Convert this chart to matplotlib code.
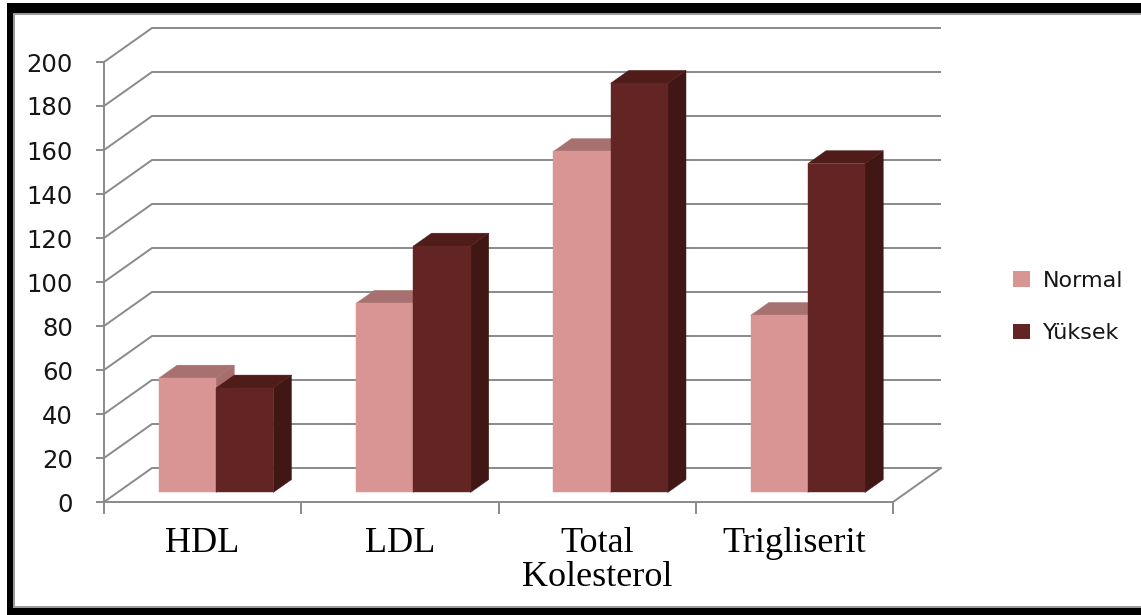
import matplotlib
matplotlib.use("Agg")
import matplotlib.pyplot as plt
from matplotlib.patches import Polygon, Patch, Rectangle

# ---- data -------------------------------------------------------------
categories = ["HDL", "LDL", "Total\nKolesterol", "Trigliserit"]
series_names = ["Normal", "Yüksek"]
normal_values = [52, 86, 155, 80.5]
yuksek_values = [47.5, 112, 186, 149.5]
y_ticks = list(range(0, 201, 20))

# ---- style ------------------------------------------------------------
W_PX, H_PX = 1141, 615
DPI = 100
face_colors = {
    "Normal": ("#D99594", "#A6716F", "#A86E6D"),   # front, top, side
    "Yüksek": ("#632523", "#4F1C1A", "#411716"),
}
grid_color = "#8a8a8a"
grid_lw = 1.4

fig = plt.figure(figsize=(W_PX / DPI, H_PX / DPI), dpi=DPI)
fig.patch.set_facecolor("white")

# front plane of the plot area (pixels)
x_left, x_right = 104, 893
y_bottom, y_top = 502, 62
ax = fig.add_axes([x_left / W_PX, 1 - y_bottom / H_PX,
                   (x_right - x_left) / W_PX, (y_bottom - y_top) / H_PX])
n_cat = len(categories)
ax.set_xlim(0, n_cat)
ax.set_ylim(0, 200)
ax.set_facecolor("none")

# oblique depth vector in data units
px_per_cat = (x_right - x_left) / n_cat
px_per_val = (y_bottom - y_top) / 200
DX = 48 / px_per_cat
DY = 34 / px_per_val


def proj(x, y, d):
    return (x + d * DX, y + d * DY)


# back wall + left wall gridlines
for v in y_ticks:
    pts = [proj(0, v, 0), proj(0, v, 1), proj(n_cat, v, 1)]
    ax.plot([p[0] for p in pts], [p[1] for p in pts], color=grid_color,
            lw=grid_lw, clip_on=False, zorder=1, solid_capstyle="butt")
# right edge of the floor
p0, p1 = proj(n_cat, 0, 0), proj(n_cat, 0, 1)
ax.plot([p0[0], p1[0]], [p0[1], p1[1]], color=grid_color, lw=grid_lw,
        clip_on=False, zorder=1)

# 3-D columns
bar_w = 0.29
f0, f1 = 0.28, 0.66
for i in range(n_cat):
    for s, (name, vals) in enumerate(zip(series_names, [normal_values, yuksek_values])):
        v = vals[i]
        front_c, top_c, side_c = face_colors[name]
        xa = i + 0.5 - bar_w + s * bar_w
        xb = xa + bar_w
        z = 3 + s + i * 2
        front = [proj(xa, 0, f0), proj(xb, 0, f0), proj(xb, v, f0), proj(xa, v, f0)]
        top = [proj(xa, v, f0), proj(xb, v, f0), proj(xb, v, f1), proj(xa, v, f1)]
        side = [proj(xb, 0, f0), proj(xb, 0, f1), proj(xb, v, f1), proj(xb, v, f0)]
        for poly, c in ((side, side_c), (top, top_c), (front, front_c)):
            ax.add_patch(Polygon(poly, closed=True, facecolor=c, edgecolor=c,
                                 lw=0.3, clip_on=False, zorder=z))

# axes
for sp in ("top", "right"):
    ax.spines[sp].set_visible(False)
for sp in ("left", "bottom"):
    ax.spines[sp].set_color(grid_color)
    ax.spines[sp].set_linewidth(grid_lw)
    ax.spines[sp].set_zorder(2)

ax.set_yticks(y_ticks)
ax.set_yticklabels([str(t) for t in y_ticks])
ax.tick_params(axis="y", direction="out", length=5.8, width=grid_lw,
               color=grid_color, pad=16.5, labelsize=17.5, labelcolor="#151515")
for lab in ax.get_yticklabels():
    lab.set_family("DejaVu Sans")

ax.set_xticks(range(n_cat + 1))
ax.set_xticklabels([])
ax.tick_params(axis="x", which="major", direction="out", length=8.6,
               width=grid_lw, color=grid_color)
ax.set_xticks([i + 0.5 for i in range(n_cat)], minor=True)
ax.set_xticklabels(categories, minor=True, fontsize=26,
                   family="Liberation Serif", color="#000000",
                   linespacing=1.05, va="top")
ax.tick_params(axis="x", which="minor", length=0, pad=18)

# legend
handles = [Patch(facecolor=face_colors[n][0], edgecolor="none") for n in series_names]
leg = fig.legend(handles, series_names, loc="center left",
                 bbox_to_anchor=(1013 / W_PX, 1 - 307 / H_PX),
                 frameon=False, fontsize=16, handlelength=0.78,
                 handleheight=0.68, handletextpad=0.55, labelspacing=1.45,
                 borderpad=0, borderaxespad=0)
for t in leg.get_texts():
    t.set_color("#151515")

# outer black frame
def fig_rect(x0, y0, x1, y1, color):
    fig.add_artist(Rectangle((x0 / W_PX, 1 - y1 / H_PX), (x1 - x0) / W_PX,
                             (y1 - y0) / H_PX, transform=fig.transFigure,
                             facecolor=color, edgecolor="none", zorder=20))

fig_rect(7, 3, W_PX, 13, "black")
fig_rect(7, 3, 13, H_PX, "black")
fig_rect(7, 608, W_PX, H_PX, "black")
fig_rect(13, 13, W_PX, 15, "#9a9a9a")
fig_rect(13, 13, 15, 608, "#9a9a9a")
fig_rect(13, 606, W_PX, 608, "#9a9a9a")

fig.savefig("out.png", dpi=DPI)
